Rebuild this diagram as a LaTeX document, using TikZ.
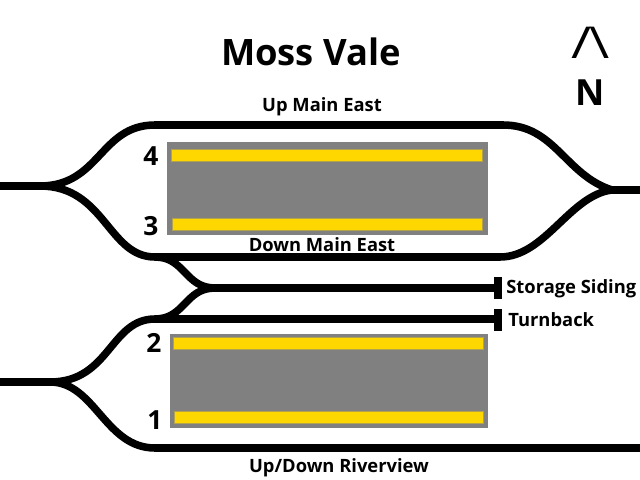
\documentclass[tikz,border=0pt]{standalone}
\usepackage{fontspec}
\setmainfont{Open Sans}

\definecolor{platformyellow}{HTML}{FFD700}
\tikzset{
    track/.style={line width=4.3pt},
    buffer/.style={line width=4.5pt},
    platform/.style={fill=gray},
    edge/.style={draw=gray!60!platformyellow,fill=platformyellow,line width=0.3pt},
    tracklabel/.style={font=\fontsize{10.45}{12}\bfseries\selectfont,inner sep=0pt},
    number/.style={font=\fontsize{15}{18}\bfseries\selectfont,inner sep=0pt}
}

\begin{document}
\begin{tikzpicture}[x=0.02cm,y=-0.02cm]
    \useasboundingbox (0,0) rectangle (640,480);

    % platforms
    \fill[platform] (167,142) rectangle (488,235);
    \fill[platform] (170,334) rectangle (488,428);
    \draw[edge] (171,149) rectangle (482,161);
    \draw[edge] (172,218) rectangle (482,230);
    \draw[edge] (173,337) rectangle (483,349);
    \draw[edge] (174,411) rectangle (483,423);

    % junctions and line ends
    \coordinate (westupper) at (0,186);
    \coordinate (splitupper) at (40,186);
    \coordinate (upstart) at (155,125);
    \coordinate (upend) at (503,125);
    \coordinate (downstart) at (155,257);
    \coordinate (downend) at (500,257);
    \coordinate (spliteast) at (612,190);
    \coordinate (east) at (640,190);
    \coordinate (westlower) at (0,382);
    \coordinate (splitlower) at (50,382);
    \coordinate (turnstart) at (155,319);
    \coordinate (rivstart) at (155,448);
    \coordinate (riv) at (640,448);
    \coordinate (splitstorage) at (215,288);
    \coordinate (storageend) at (498,288);
    \coordinate (turnend) at (498,319);

    % tracks
    \draw[track] (westupper) -- (splitupper) .. controls (100,186) and (100,125) .. (upstart) -- (upend)
        .. controls (555,125) and (565,175) .. (spliteast) -- (east);
    \draw[track] (splitupper) .. controls (105,186) and (108,257) .. (downstart) -- (downend)
        .. controls (545,257) and (570,195) .. (spliteast);
    \draw[track] (downstart) .. controls (185,257) and (185,288) .. (splitstorage) -- (storageend);
    \draw[track] (turnstart) .. controls (185,319) and (185,288) .. (splitstorage);
    \draw[track] (westlower) -- (splitlower) .. controls (110,382) and (110,319) .. (turnstart) -- (turnend);
    \draw[track] (splitlower) .. controls (95,382) and (105,448) .. (rivstart) -- (riv);
    \draw[buffer] (498,277) -- (498,299);
    \draw[buffer] (498,309) -- (498,331);

    % labels
    \node (title) at (311,52) {\fontsize{20.7}{24}\bfseries\selectfont Moss Vale};
    \node (north) at (590,93) {\fontsize{20.5}{24}\bfseries\selectfont N};
    \node (arrow) at (591,43) {\scalebox{1.25}[1]{\fontsize{25}{29}\selectfont /\kern-1pt\textbackslash}};
    \node[tracklabel] (upmain) at (322,107) {Up Main East};
    \node[tracklabel] (downmain) at (322,245) {Down Main East};
    \node[tracklabel] (riverview) at (339,468) {Up/Down Riverview};
    \node[tracklabel,anchor=west] (storage) at (506,289) {Storage Siding};
    \node[tracklabel,anchor=west] (turnback) at (508,320) {Turnback};
    \node[number] (four) at (151,156) {4};
    \node[number] (three) at (151,226) {3};
    \node[number] (two) at (154,343) {2};
    \node[number] (one) at (155,420) {1};
\end{tikzpicture}
\end{document}
